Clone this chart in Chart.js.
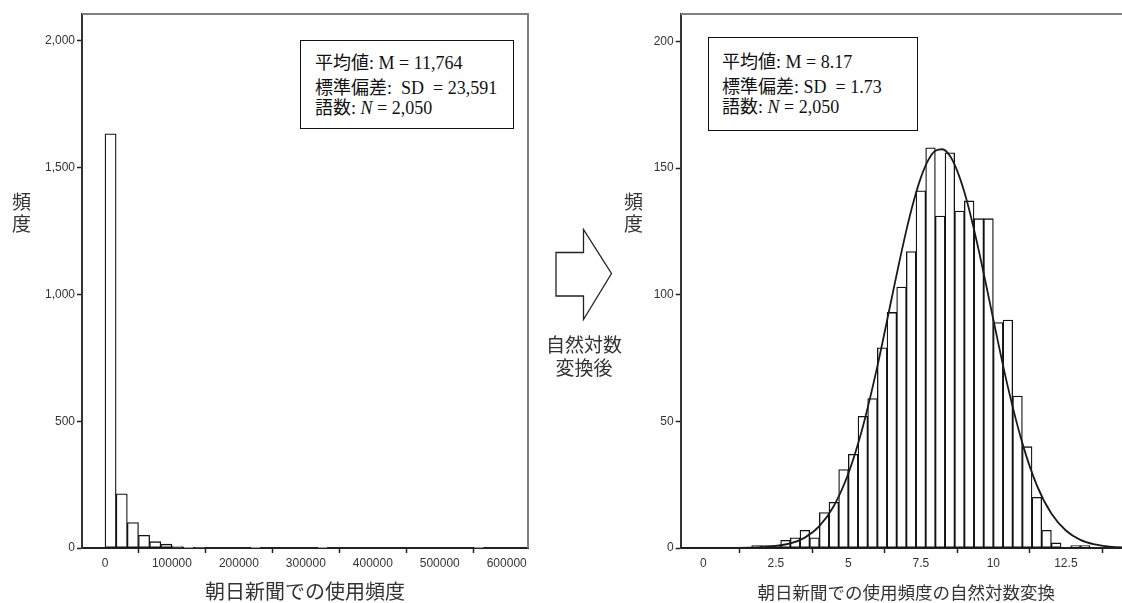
<!DOCTYPE html>
<html>
<head>
<meta charset="utf-8">
<script src="https://cdn.jsdelivr.net/npm/chart.js@4.4.1/dist/chart.umd.min.js"></script>
<style>
html, body { margin: 0; padding: 0; background: #fff; overflow: hidden; }
#wrap { position: relative; width: 1122px; height: 603px; overflow: hidden; }
canvas { position: absolute; top: 0; }
.box { position: absolute; border: 1.5px solid #111; box-sizing: border-box; background: #fff; }
.stat { position: absolute; font-family: "Liberation Serif", "Noto Sans CJK JP", serif; font-size: 18px; line-height: 20px; color: #111; white-space: pre; }
.jp { position: absolute; font-family: "Noto Sans CJK JP", sans-serif; color: #333; }
</style>
</head>
<body>
<div id="wrap">
  <canvas id="rawChart" width="540" height="603" style="left:0px"></canvas>
  <canvas id="logChart" width="540" height="603" style="left:600px"></canvas>

  <div class="box" style="left:300px;top:40px;width:214px;height:89px"></div>
  <div class="stat" style="left:315px;top:53px">平均値: M = 11,764</div>
  <div class="stat" style="left:315px;top:78px">標準偏差:  SD  = 23,591</div>
  <div class="stat" style="left:315px;top:98px">語数: <i>N</i> = 2,050</div>

  <div class="box" style="left:708px;top:37px;width:210px;height:94px"></div>
  <div class="stat" style="left:722px;top:52px">平均値: M = 8.17</div>
  <div class="stat" style="left:722px;top:77px">標準偏差: SD  = 1.73</div>
  <div class="stat" style="left:722px;top:97px">語数: <i>N</i> = 2,050</div>

  <div class="jp" style="left:12px;top:190px;font-size:19px;line-height:22px">頻<br>度</div>
  <div class="jp" style="left:624px;top:190px;font-size:19px;line-height:22px">頻<br>度</div>

  <svg style="position:absolute;left:0;top:0" width="1122" height="603">
    <polygon points="556,252.5 583.5,252.5 583.5,229.5 611.5,273.5 583.5,319.5 583.5,296 556,296"
             fill="#fff" stroke="#222" stroke-width="1.3"/>
  </svg>
  <div class="jp" style="left:534px;top:332px;width:100px;text-align:center;font-size:19px;line-height:23px">自然対数<br>変換後</div>
</div>

<script>
// left histogram: raw frequency, bins of 600000/36
const rawBinWidth = 600000 / 36;
const rawCounts = [1634, 214, 100, 50, 25, 15, 6, 3, 2,
  0, 0, 0, 0, 1, 0, 0, 0, 0, 0, 1,
  0, 0, 0, 0, 0, 0, 0, 0, 0, 0, 0, 0, 0, 1, 0, 0];

// right histogram: log-transformed, bins of 1/3 starting at 5/3
const logBinStart = 5 / 3;
const logBinWidth = 1 / 3;
const logCounts = [1, 1, 1, 3, 4, 7, 4, 14, 18, 31,
  37, 52, 59, 79, 93, 103, 117, 141, 158, 131,
  156, 133, 137, 130, 130, 89, 90, 60, 40, 20,
  7, 2, 0, 1, 1];

// fitted normal curve
const curveX = [-0.78, 0, 1, 2, 3, 3.5, 4, 4.5, 5, 5.5, 6, 6.5, 6.75, 7, 7.25, 7.5, 7.75,
  8, 8.25, 8.5, 8.75, 9, 9.25, 9.5, 9.75, 10, 10.5, 11, 11.5, 12, 12.5, 13, 13.5, 14, 14.78];
const curveY = [0, 0, 0.03, 0.3, 1.8, 4.1, 8.6, 16.6, 29.4, 47.9, 71.7, 98.9, 112.5, 125.4, 136.8, 146.2, 153.0,
  156.8, 157.4, 154.8, 149.0, 140.5, 129.7, 117.3, 103.9, 90.1, 63.6, 41.4, 24.7, 13.6, 6.9, 3.2, 1.4, 0.5, 0.15];

// tick labels
const rawXTicks = [0, 100000, 200000, 300000, 400000, 500000, 600000];
const rawYTicks = [0, 500, 1000, 1500, 2000];
const logXTicks = [0, 2.5, 5, 7.5, 10, 12.5];
const logYTicks = [0, 50, 100, 150, 200];

const tickFont = { family: 'Liberation Sans', size: 12 };

// frame on top and right of plot area
const framePlugin = {
  id: 'frame',
  beforeDatasetsDraw(chart) {
    const { ctx, chartArea: a } = chart;
    ctx.save();
    ctx.strokeStyle = '#808080';
    ctx.lineWidth = 2;
    ctx.beginPath();
    ctx.moveTo(a.left, a.top);
    ctx.lineTo(a.right, a.top);
    ctx.lineTo(a.right, a.bottom);
    ctx.stroke();
    ctx.restore();
  }
};

function barSet(points) {
  return {
    type: 'bar',
    data: points,
    backgroundColor: '#fff',
    borderColor: '#111',
    borderWidth: 1.3,
    borderSkipped: false,
    barPercentage: 1,
    categoryPercentage: 1,
    order: 2
  };
}

function axisX(min, max, tickList, title, titleSize) {
  return {
    type: 'linear', min, max, offset: false,
    afterBuildTicks: axis => { axis.ticks = tickList.map(v => ({ value: v })); },
    ticks: { color: '#333', font: tickFont, padding: 3, maxRotation: 0, autoSkip: false,
      callback: v => String(v) },
    grid: { drawOnChartArea: false, tickLength: 5, tickColor: '#222', tickWidth: 1.5 },
    border: { display: true, color: '#222', width: 2 },
    title: { display: true, text: title, color: '#333', font: { family: 'Noto Sans CJK JP', size: titleSize }, padding: { top: 0, bottom: 0 } },
    afterFit: a => { a.height = 55; }
  };
}

function axisY(max, tickList, width, fmt) {
  return {
    min: 0, max,
    afterBuildTicks: axis => { axis.ticks = tickList.map(v => ({ value: v })); },
    ticks: { color: '#333', font: tickFont, padding: 2, callback: fmt },
    grid: { drawOnChartArea: false, tickLength: 5, tickColor: '#222', tickWidth: 1.5 },
    border: { display: true, color: '#333', width: 2 },
    afterFit: a => { a.width = width; }
  };
}

const rawPoints = rawCounts.map((c, i) => ({ x: (i + 0.5) * rawBinWidth, y: c }));
const logPoints = logCounts.map((c, i) => ({ x: logBinStart + (i + 0.5) * logBinWidth, y: c }));
const curvePoints = curveX.map((x, i) => ({ x, y: curveY[i] }));

new Chart(document.getElementById('rawChart'), {
  type: 'bar',
  data: { datasets: [barSet(rawPoints)] },
  options: {
    responsive: false,
    animation: false,
    devicePixelRatio: 1,
    layout: { padding: { top: 14, right: 12, left: 0, bottom: 0 } },
    plugins: { legend: { display: false }, tooltip: { enabled: false } },
    scales: {
      x: axisX(-34350, 631800, rawXTicks, '朝日新聞での使用頻度', 20),
      y: axisY(2106.5, rawYTicks, 82, v => v.toLocaleString('en-US'))
    }
  },
  plugins: [framePlugin]
});

new Chart(document.getElementById('logChart'), {
  type: 'bar',
  data: {
    datasets: [
      barSet(logPoints),
      {
        type: 'line',
        data: curvePoints,
        borderColor: '#1a1a1a',
        borderWidth: 1.8,
        pointRadius: 0,
        cubicInterpolationMode: 'monotone',
        fill: false,
        order: 1
      }
    ]
  },
  options: {
    responsive: false,
    animation: false,
    devicePixelRatio: 1,
    layout: { padding: { top: 14, right: 8, left: 0, bottom: 0 } },
    plugins: { legend: { display: false }, tooltip: { enabled: false } },
    scales: {
      x: axisX(-0.78, 14.78, logXTicks, '朝日新聞での使用頻度の自然対数変換', 17.5),
      y: axisY(210.8, logYTicks, 80.7, v => String(v))
    }
  },
  plugins: [framePlugin]
});
</script>
</body>
</html>
